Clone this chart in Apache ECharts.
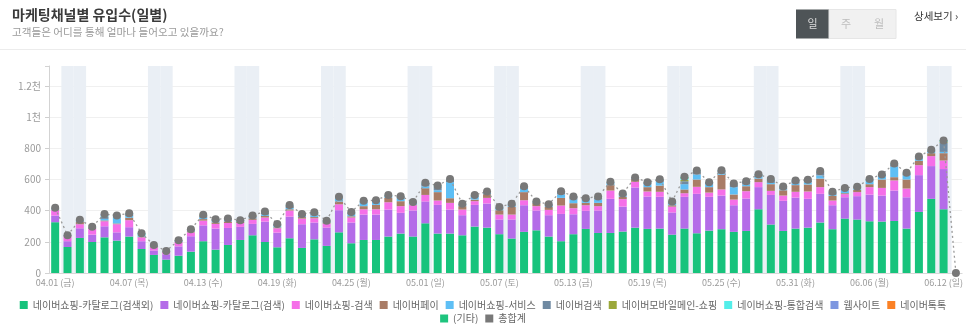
<!DOCTYPE html>
<html>
<head>
<meta charset="utf-8">
<script src="https://cdn.jsdelivr.net/npm/echarts@6/dist/echarts.min.js"></script>
<style>
html,body{margin:0;padding:0;background:#fff;}
#chart{width:966px;height:334px;}
</style>
</head>
<body>
<div id="chart"></div>
<script>
const categories = [
'04.01 (금)','04.02 (토)','04.03 (일)','04.04 (월)','04.05 (화)','04.06 (수)','04.07 (목)','04.08 (금)','04.09 (토)','04.10 (일)',
'04.11 (월)','04.12 (화)','04.13 (수)','04.14 (목)','04.15 (금)','04.16 (토)','04.17 (일)','04.18 (월)','04.19 (화)','04.20 (수)',
'04.21 (목)','04.22 (금)','04.23 (토)','04.24 (일)','04.25 (월)','04.26 (화)','04.27 (수)','04.28 (목)','04.29 (금)','04.30 (토)',
'05.01 (일)','05.02 (월)','05.03 (화)','05.04 (수)','05.05 (목)','05.06 (금)','05.07 (토)','05.08 (일)','05.09 (월)','05.10 (화)',
'05.11 (수)','05.12 (목)','05.13 (금)','05.14 (토)','05.15 (일)','05.16 (월)','05.17 (화)','05.18 (수)','05.19 (목)','05.20 (금)',
'05.21 (토)','05.22 (일)','05.23 (월)','05.24 (화)','05.25 (수)','05.26 (목)','05.27 (금)','05.28 (토)','05.29 (일)','05.30 (월)',
'05.31 (화)','06.01 (수)','06.02 (목)','06.03 (금)','06.04 (토)','06.05 (일)','06.06 (월)','06.07 (화)','06.08 (수)','06.09 (목)',
'06.10 (금)','06.11 (토)','06.12 (일)','06.13 (월)'
];
const weekendDays = ['04.02 (토)','04.03 (일)','04.09 (토)','04.10 (일)','04.16 (토)','04.17 (일)','04.23 (토)','04.24 (일)',
'04.30 (토)','05.01 (일)','05.07 (토)','05.08 (일)','05.14 (토)','05.15 (일)','05.21 (토)','05.22 (일)','05.28 (토)','05.29 (일)',
'06.04 (토)','06.05 (일)','06.11 (토)','06.12 (일)'];

const seriesNames = ['네이버쇼핑-카탈로그(검색외)','네이버쇼핑-카탈로그(검색)','네이버쇼핑-검색','네이버페이','네이버쇼핑-서비스',
'네이버검색','네이버모바일메인-쇼핑','네이버쇼핑-통합검색','웹사이트','네이버톡톡','(기타)'];
const seriesColors = ['#17c37c','#b46ce8','#f56fe8','#a97c66','#5ebff5','#6f8aa2','#9ba83a','#53eee9','#7e97e0','#fb8125','#1ec47e'];

const catalogOther = [326,167,225,199,229,208,234,154,116,86,111,137,204,150,180,212,242,199,165,223,161,216,174,261,191,212,212,234,253,234,
319,253,253,242,298,291,249,221,264,274,234,204,249,283,257,257,266,291,283,285,246,285,255,272,281,264,270,409,311,270,285,
291,324,281,349,343,332,330,334,285,392,476,409,0];
const catalogSearch = [43,37,62,47,71,53,60,50,28,34,60,99,102,135,109,84,73,131,94,139,152,108,117,142,133,163,163,173,133,167,
140,184,154,129,139,155,94,122,171,127,137,175,128,116,144,219,160,258,208,204,142,204,253,217,216,171,208,142,190,193,199,
185,184,154,137,150,171,167,195,201,236,210,258,0];
const shopSearch = [34,32,26,37,32,52,45,25,21,13,26,25,30,30,32,25,26,26,28,39,36,27,26,38,32,34,34,47,43,34,
42,28,43,36,24,36,32,32,32,28,34,54,39,36,28,53,48,36,32,32,38,23,45,27,39,36,47,32,26,34,37,
47,43,30,20,26,48,49,65,56,64,64,55,0];
const naverPay = [4,2,15,5,5,5,15,3,3,2,2,6,10,10,10,8,10,10,6,8,10,8,8,18,8,20,28,28,32,4,
43,54,30,22,10,24,28,49,52,21,19,49,32,15,21,35,15,18,28,40,9,24,47,35,94,33,32,23,43,34,43,
45,55,30,6,15,19,54,21,58,28,19,47,0];
const shopService = [4,2,6,3,10,38,12,5,6,3,6,8,8,8,12,5,6,10,8,8,8,10,5,20,12,22,18,10,20,10,
12,12,103,6,18,10,8,8,21,4,8,22,23,19,21,12,8,5,19,24,8,34,32,19,12,47,10,20,8,6,10,
12,20,6,19,8,23,21,67,26,13,8,8,0];
const naverSearch = [5,2,4,3,16,8,12,4,3,3,5,6,14,10,6,5,8,14,14,16,12,17,6,7,12,9,9,6,9,5,
18,24,16,7,9,5,10,9,13,4,7,17,16,8,14,7,10,4,10,13,12,19,20,10,14,18,17,6,20,14,16,
14,22,16,12,8,8,8,16,13,11,10,58,0];
const mobileMain = [0,0,0,0,0,0,0,0,0,0,0,0,5,0,0,0,4,0,0,0,0,0,0,0,0,0,0,0,0,0,
0,0,0,0,0,0,0,0,0,0,0,0,0,0,2,0,0,0,0,0,0,8,0,0,0,0,0,0,0,0,0,
0,0,0,0,0,0,0,0,0,0,0,6,0];
const shopIntegrated = [2,0,3,2,4,5,6,14,3,0,0,0,0,2,0,0,0,4,0,4,0,4,0,3,4,3,3,3,3,2,
5,6,5,2,3,2,3,3,4,1,2,4,4,3,4,2,3,1,3,4,4,8,6,3,4,5,5,2,6,4,4,
4,6,4,3,3,3,3,5,4,4,4,4,0];
const website = [0,0,0,0,12,0,0,0,0,0,0,0,0,0,0,0,0,0,0,0,0,0,0,0,0,0,0,0,0,0,
0,0,0,0,0,0,0,0,0,0,0,0,0,0,0,0,0,0,0,0,0,0,0,0,0,0,0,0,0,0,0,
0,0,0,0,0,0,0,0,0,0,0,0,0];
const talkTalk = [0,0,0,0,0,0,0,0,0,0,0,0,0,0,0,0,0,0,0,0,0,0,0,0,0,0,0,0,0,0,
0,0,0,0,0,0,0,0,0,0,0,0,0,0,0,0,0,0,0,0,0,0,0,0,0,0,0,0,0,0,0,
0,0,0,0,0,0,0,0,0,0,0,0,0];
const etc = [0,0,0,0,0,0,0,0,0,0,0,0,0,0,0,0,0,0,0,0,0,0,0,0,0,0,0,0,0,0,
0,0,0,0,0,0,0,0,0,0,0,0,0,0,0,0,0,0,0,0,0,12,0,0,0,0,0,0,0,0,0,
0,0,0,0,0,0,0,0,0,0,0,6,0];
const totals = [418,242,341,296,379,369,384,255,180,141,210,281,373,345,349,339,369,394,315,437,379,390,336,489,392,463,467,501,493,456,
579,561,604,444,501,523,424,444,557,459,441,525,491,480,491,585,510,613,583,602,459,617,658,583,660,574,589,634,604,555,594,
598,654,521,546,553,604,632,703,643,748,791,851,0];
const yTicks = [0,200,400,600,800,1000,1200];

const seriesValues = [catalogOther,catalogSearch,shopSearch,naverPay,shopService,naverSearch,mobileMain,shopIntegrated,website,talkTalk,etc];

const FONT = 'Noto Sans CJK KR';
const chart = echarts.init(document.getElementById('chart'), null, {renderer:'canvas'});

const barSeries = seriesNames.map((n,i)=>({
  name:n, type:'bar', stack:'total', data:seriesValues[i], barWidth:8,
  itemStyle:{color:seriesColors[i]}, xAxisIndex:0, yAxisIndex:0, z:2
}));

const option = {
  animation:false,
  textStyle:{fontFamily:FONT},
  title:{
    text:'마케팅채널별 유입수(일별)', subtext:'고객들은 어디를 통해 얼마나 들어오고 있을까요?',
    left:12, top:8, padding:0, itemGap:5,
    textStyle:{fontSize:14, fontWeight:'bold', color:'#3a3a3a', fontFamily:FONT},
    subtextStyle:{fontSize:10.6, color:'#9a9a9a', fontFamily:FONT}
  },
  graphic:[
    {type:'line', shape:{x1:0,y1:49.5,x2:966,y2:49.5}, style:{stroke:'#ececec', lineWidth:1}},
    {type:'rect', shape:{x:796,y:9.5,width:33,height:29}, style:{fill:'#4e5457'}},
    {type:'rect', shape:{x:829,y:9.5,width:67,height:29}, style:{fill:'#f1f1f1', stroke:'#e6e6e6'}},
    {type:'text', x:812.5, y:24, style:{text:'일', fill:'#dcdcdc', font:'11px '+FONT, textAlign:'center', textVerticalAlign:'middle'}},
    {type:'text', x:846, y:24, style:{text:'주', fill:'#bdbdbd', font:'11px '+FONT, textAlign:'center', textVerticalAlign:'middle'}},
    {type:'text', x:879, y:24, style:{text:'월', fill:'#bdbdbd', font:'11px '+FONT, textAlign:'center', textVerticalAlign:'middle'}},
    {type:'text', x:914, y:16, style:{text:'상세보기 ›', fill:'#333', font:'10.5px '+FONT, textAlign:'left', textVerticalAlign:'middle'}}
  ],
  legend:[
    {data:seriesNames.slice(0,10), left:'center', top:295, icon:'rect', itemWidth:8, itemHeight:8, itemGap:7,
     textStyle:{fontSize:10, color:'#666', fontFamily:FONT}, selectedMode:false},
    {data:['(기타)','총합계'], left:'center', top:308.5, icon:'rect', itemWidth:8, itemHeight:8, itemGap:7,
     textStyle:{fontSize:10, color:'#666', fontFamily:FONT}, selectedMode:false}
  ],
  grid:[
    {left:49, right:2, top:86, bottom:61},
    {left:49, right:2, top:66, bottom:61}
  ],
  xAxis:[
    {type:'category', gridIndex:0, data:categories, boundaryGap:true,
     axisLine:{show:true, lineStyle:{color:'#d8d8d8'}}, axisTick:{show:false},
     axisLabel:{interval:5, color:'#9a9a9a', fontSize:9, margin:5, fontFamily:FONT}},
    {type:'category', gridIndex:1, data:categories, boundaryGap:true, show:false}
  ],
  yAxis:[
    {type:'value', gridIndex:0, min:yTicks[0], max:yTicks[yTicks.length-1], interval:200,
     axisLine:{show:false}, axisTick:{show:true, length:4, lineStyle:{color:'#cfcfcf'}},
     splitLine:{show:true, lineStyle:{color:'#f0f0f0'}},
     axisLabel:{color:'#9a9a9a', fontSize:10, margin:8, fontFamily:FONT,
       formatter:v=> v>=1000 ? (v/1000)+'천' : String(v)}},
    {type:'value', gridIndex:1, min:0, max:1, interval:1,
     axisLine:{show:true, lineStyle:{color:'#d3d3d3'}}, axisTick:{show:true, length:4, lineStyle:{color:'#d3d3d3'}},
     splitLine:{show:false}, axisLabel:{show:false}}
  ],
  series:[
    {name:'weekend', type:'bar', xAxisIndex:1, yAxisIndex:1, barCategoryGap:'0%', z:0, silent:true,
     data:categories.map(c=> weekendDays.includes(c) ? 1 : 0), itemStyle:{color:'#eaeff5'}},
    ...barSeries,
    {name:'총합계', type:'line', data:totals, xAxisIndex:0, yAxisIndex:0, symbol:'circle', symbolSize:8, z:4,
     itemStyle:{color:'#787878'}, lineStyle:{color:'#9a9a9a', width:1.3, type:[2,3]}}
  ]
};
chart.setOption(option);
</script>
</body>
</html>
